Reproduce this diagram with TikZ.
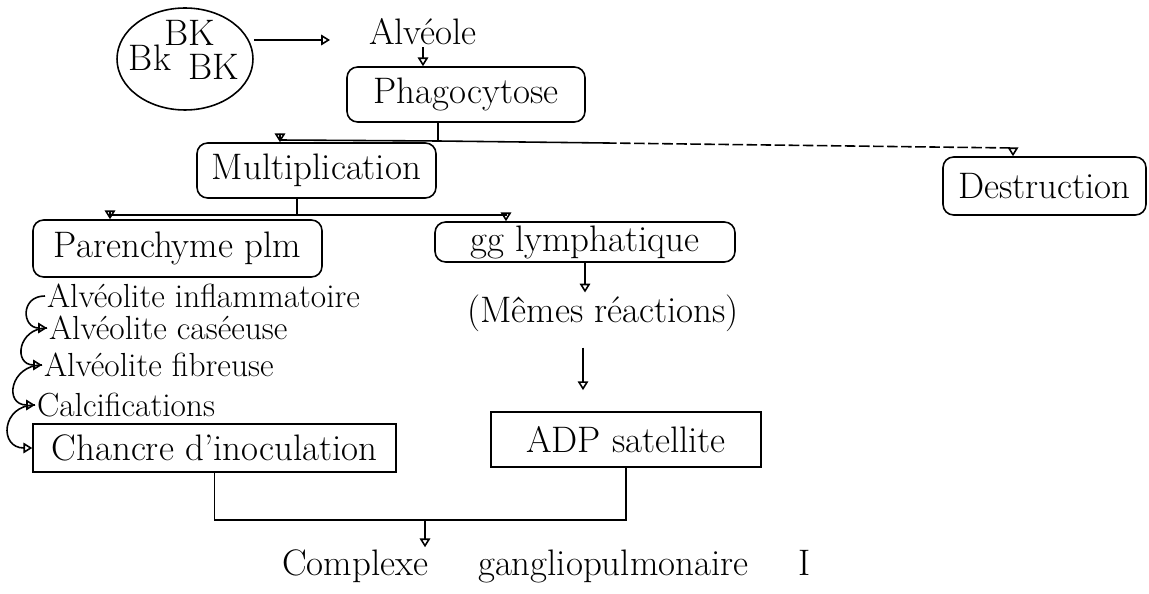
\documentclass[tikz,border=0pt]{standalone}
\usepackage{fontspec}
\usetikzlibrary{arrows.meta, shapes.geometric}
\tikzset{
  box/.style={
    draw,
    rounded corners=6pt,
    line width=0.9pt,
    inner sep=0pt,
    font=\fontsize{21}{24}\selectfont
  },
  sqbox/.style={
    box,
    sharp corners
  },
  lbl/.style={
    inner sep=1pt,
    font=\fontsize{21}{24}\selectfont
  },
  item/.style={
    anchor=west,
    inner sep=1pt,
    font=\fontsize{19}{22}\selectfont
  },
  link/.style={
    line width=0.9pt
  },
  arr/.style={
    link,
    -{Triangle[open, length=5pt, width=6pt]}
  },
  hook/.style={
    arr,
    out=180, in=180,
    looseness=2
  }
}

\begin{document}
\begin{tikzpicture}[x=0.02cm, y=-0.02cm]

  \useasboundingbox (0,0) rectangle (1149,594);

  %% ---- BK et alvéole ----
  \node[draw, ellipse, line width=0.9pt, minimum width=2.72cm,
        minimum height=2.04cm] (bk) at (185,59) {};
  \node[lbl] (bk1) at (150,58) {Bk};
  \node[lbl] (bk2) at (190,33) {BK};
  \node[lbl] (bk3) at (214,67) {BK};

  \node[lbl] (alv) at (423,32) {Alvéole};
  \coordinate (bkend) at (330,40);
  \draw[arr] (bk.east |- bkend) -- (bkend);

  %% ---- phagocytose ----
  \node[box, minimum width=4.76cm, minimum height=1.1cm] (phago) at (466,94.5) {Phagocytose};
  \draw[arr] (alv.south) -- (alv.south |- phago.north);

  %% ---- multiplication / destruction ----
  \node[box, minimum width=4.78cm, minimum height=1.1cm] (multi) at (316.5,170.5) {Multiplication};
  \node[box, minimum width=4.06cm, minimum height=1.16cm] (destr) at (1044.5,186) {Destruction};

  \coordinate (pj) at (438,141);
  \coordinate (pm) at (280,140);
  \coordinate (pk) at (606,143);
  \coordinate (pd) at (1013,148);
  \draw[link] (phago.south -| pj) -- (pj);
  \draw[arr] (pj) -- (pm) -- (pm |- multi.north);
  \draw[link] (pj) -- (pk);
  \draw[arr, dash pattern=on 6pt off 2pt] (pk) -- (pd) -- (pd |- destr.north);

  %% ---- parenchyme / ganglion ----
  \node[box, minimum width=5.78cm, minimum height=1.14cm] (paren) at (177.5,248.5) {Parenchyme plm};
  \node[box, minimum width=6cm, minimum height=0.8cm] (gg) at (585,242) {gg lymphatique};

  \coordinate (mj) at (297,215);
  \coordinate (ml) at (110,215);
  \coordinate (mr) at (506,215);
  \draw[link] (multi.south -| mj) -- (mj);
  \draw[arr] (mj) -- (ml) -- (ml |- paren.north);
  \draw[arr] (mj) -- (mr) -- (mr |- gg.north);

  %% ---- évolution parenchymateuse ----
  \node[item] (infl) at (45,296) {Alvéolite inflammatoire};
  \node[item] (case) at (47,328) {Alvéolite caséeuse};
  \node[item] (fibr) at (42,365) {Alvéolite fibreuse};
  \node[item] (calc) at (35,405) {Calcifications};
  \node[sqbox, minimum width=7.26cm, minimum height=0.96cm] (chancre) at (214.5,448) {Chancre d'inoculation};

  \draw[hook] (infl.west) to (case.west);
  \draw[hook] (case.west) to (fibr.west);
  \draw[hook] (fibr.west) to (calc.west);
  \draw[hook] (calc.west) to (chancre.west);

  %% ---- côté ganglionnaire ----
  \node[lbl] (memes) at (603,313) {(Mêmes réactions)};
  \node[sqbox, minimum width=5.4cm, minimum height=1.1cm] (adp) at (626,439.5) {ADP satellite};

  \coordinate (ma) at (583,347);
  \draw[arr] (gg.south) -- (gg.south |- memes.north);
  \draw[arr, shorten <=8pt, shorten >=12pt] (memes.south -| ma) -- (ma |- adp.north);

  %% ---- complexe ----
  \node[lbl, anchor=west] (cgp) at (280,566)
    {Complexe\hspace{1cm}gangliopulmonaire\hspace{1cm}I};

  \coordinate (cj) at (425,520);
  \draw[link] (chancre.south) |- (cj) -| (adp.south);
  \draw[arr] (cj) -- (cj |- cgp.north);

\end{tikzpicture}
\end{document}
